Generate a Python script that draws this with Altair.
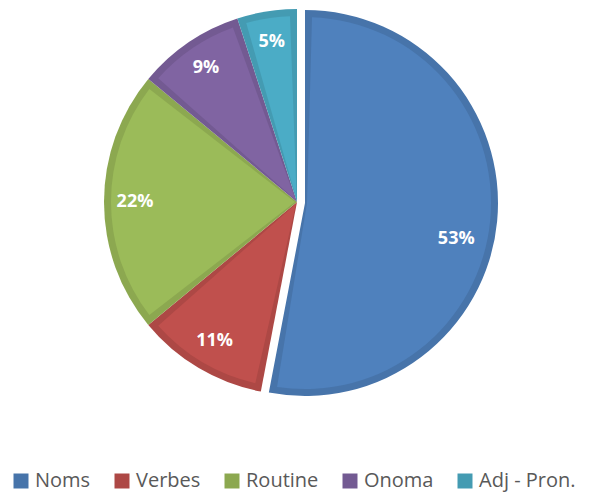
import altair as alt
import pandas as pd

categories = ["Noms", "Verbes", "Routine", "Onoma", "Adj - Pron."]
values = [53, 11, 22, 9, 5]
order = [1, 2, 3, 4, 5]
fill_colors = ["#4F81BD", "#C0504D", "#9BBB59", "#8064A2", "#4BACC6"]
edge_colors = ["#4774AA", "#AD4845", "#8CA850", "#735A92", "#449BB2"]

df = pd.DataFrame({"cat": categories, "val": values, "ord": order})

CX, CY = 289, 194      # pie centre in plot coords
R = 193                # outer radius
BAND = 7               # darker inner border width
EXPL = 8               # explosion of the first slice
R0 = 2
RP = ((R - BAND) ** 2 + R0 ** 2) ** 0.5
PAD = 2 * BAND / RP

theta_scale = alt.Scale(domain=[0, 100], range=[0, 6.283185307])

base = alt.Chart(df).transform_window(
    end="sum(val)", sort=[alt.SortField("ord")], frame=[None, 0]
).transform_calculate(
    start="datum.end - datum.val",
    mid="datum.end - datum.val / 2",
    lab="datum.val + '%'",
)

def slices(sel, xpos, ypos, ldx=0, ldy=0):
    b = base.transform_filter(sel)
    dark = b.mark_arc(radius=R, strokeWidth=0).encode(
        theta=alt.Theta("start:Q", scale=theta_scale),
        theta2="end:Q",
        x=alt.value(xpos), y=alt.value(ypos),
        color=alt.Color("cat:N", sort=categories,
                        scale=alt.Scale(domain=categories, range=edge_colors),
                        legend=alt.Legend(
                            title=None, orient="none", direction="horizontal",
                            legendX=3, legendY=463, symbolType="square",
                            symbolSize=225, symbolStrokeWidth=0,
                            labelFontSize=20, labelFont="Open Sans",
                            labelColor="#595959", columnPadding=21,
                            labelOffset=4, columns=5)),
    )
    light = b.mark_arc(radius=R - BAND, radius2=R0, padAngle=PAD,
                       strokeWidth=0).encode(
        theta=alt.Theta("start:Q", scale=theta_scale),
        theta2="end:Q",
        x=alt.value(xpos), y=alt.value(ypos),
        fill=alt.Fill("cat:N", sort=categories,
                      scale=alt.Scale(domain=categories, range=fill_colors),
                      legend=None),
    )
    text = b.mark_text(radius=162, fontSize=18, fontWeight="bold",
                       font="Open Sans", color="white", dx=ldx, dy=ldy).encode(
        theta=alt.Theta("mid:Q", scale=theta_scale),
        x=alt.value(xpos), y=alt.value(ypos),
        text="lab:N",
    )
    return [dark, light, text]

others = slices("datum.cat != 'Noms'", CX, CY)
noms = slices("datum.cat == 'Noms'", CX + EXPL, CY + 1, ldx=-10, ldy=21)

chart = alt.layer(others[0], noms[0], others[1], noms[1], others[2], noms[2]).properties(
    width=573, height=485, padding=0,
    autosize=alt.AutoSizeParams(type="none"),
).configure_view(stroke=None)

chart.save("out.html", embed_options={"renderer": "svg", "actions": False})
